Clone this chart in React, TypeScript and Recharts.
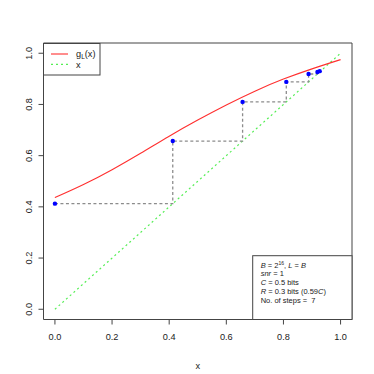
import React from 'react';
import { ComposedChart, Line, Scatter, XAxis, YAxis, ReferenceArea } from 'recharts';

// g_L(x) curve
const curveX = [0, 0.1, 0.2, 0.3, 0.4, 0.5, 0.6, 0.7, 0.8, 0.9, 1.0];
const curveY = [0.436, 0.487, 0.545, 0.609, 0.676, 0.739, 0.798, 0.852, 0.899, 0.939, 0.975];

// identity line
const diagX = [0, 1];

// iterates x_0 .. x_7
const iterates = [0, 0.4125, 0.657, 0.81, 0.888, 0.919, 0.927, 0.93];

const xTicks = [0, 0.2, 0.4, 0.6, 0.8, 1.0];
const yTicks = [0, 0.2, 0.4, 0.6, 0.8, 1.0];

const font = '"Liberation Sans", Arial, Helvetica, sans-serif';

const curve = curveX.map((x, i) => ({ x, y: curveY[i] }));
const diag = diagX.map(x => ({ x, y: x }));
const points = iterates.slice(0, -1).map((x, i) => ({ x, y: iterates[i + 1] }));

// staircase: (x_i, x_{i+1}) -> (x_{i+1}, x_{i+1}) -> (x_{i+1}, x_{i+2}) ...
const stairs: Array<{ x: number; y: number }> = [];
points.forEach((p, i) => {
  stairs.push({ x: p.x, y: p.y });
  if (i < points.length - 1) stairs.push({ x: p.y, y: p.y });
});

const YTick = (props: any) => {
  const { y, payload } = props;
  return (
    <text
      transform={`translate(31.5, ${y}) rotate(-90)`}
      textAnchor="middle"
      fontSize={9.2}
      fontFamily={font}
      fill="#222"
    >
      {payload.value.toFixed(1)}
    </text>
  );
};

const XTick = (props: any) => {
  const { x, payload } = props;
  return (
    <text x={x} y={339.5} textAnchor="middle" fontSize={9.2} fontFamily={font} fill="#222">
      {payload.value.toFixed(1)}
    </text>
  );
};

const infoLines = [0, 1, 2, 3, 4];

const App = () => {
  return (
    <div style={{ position: 'absolute', left: 0, top: 0, width: 374, height: 374, background: '#fff' }}>
      <ComposedChart
        width={374}
        height={374}
        margin={{ top: 43, right: 22, bottom: 0, left: 0 }}
      >
        <XAxis
          type="number"
          dataKey="x"
          domain={[-0.04, 1.04]}
          ticks={xTicks}
          allowDataOverflow
          height={54.5}
          axisLine={false}
          tickLine={{ stroke: '#444' }}
          tickSize={5}
          tick={<XTick />}
          label={{
            content: () => (
              <text x={197.7} y={369} textAnchor="middle" fontSize={9.2} fontFamily={font} fill="#222">
                x
              </text>
            ),
          }}
        />
        <YAxis
          type="number"
          dataKey="y"
          domain={[-0.04, 1.04]}
          ticks={yTicks}
          allowDataOverflow
          width={43.5}
          axisLine={false}
          tickLine={{ stroke: '#444' }}
          tickSize={5}
          tick={<YTick />}
        />
        <ReferenceArea
          x1={-0.04}
          x2={1.04}
          y1={-0.04}
          y2={1.04}
          fill="none"
          fillOpacity={0}
          stroke="#444"
          strokeWidth={1}
        />
        <Line
          data={diag}
          dataKey="y"
          type="linear"
          stroke="#55ee55"
          strokeWidth={1.2}
          strokeDasharray="2 3"
          dot={false}
          isAnimationActive={false}
        />
        <Line
          data={stairs}
          dataKey="y"
          type="linear"
          stroke="#8c8c8c"
          strokeWidth={1.3}
          strokeDasharray="3 2.5"
          dot={false}
          isAnimationActive={false}
        />
        <Line
          data={curve}
          dataKey="y"
          type="natural"
          stroke="#ff3030"
          strokeWidth={1.1}
          dot={false}
          isAnimationActive={false}
        />
        <Scatter
          data={points}
          fill="#0000ff"
          shape={(p: any) => <circle cx={p.cx} cy={p.cy} r={2.2} fill="#0000ff" />}
          isAnimationActive={false}
        />
      </ComposedChart>
      <svg
        width={374}
        height={374}
        style={{ position: 'absolute', left: 0, top: 0, pointerEvents: 'none' }}
      >
        {/* legend */}
        <rect x={43.5} y={43.5} width={56.5} height={31.5} fill="#fff" stroke="#444" strokeWidth={1} />
        <line x1={51} x2={68} y1={54} y2={54} stroke="#ff3030" strokeWidth={1.1} />
        <line x1={51} x2={68} y1={64.3} y2={64.3} stroke="#55ee55" strokeWidth={1.2} strokeDasharray="2 3" />
        <text x={76} y={57} fontSize={9.2} fontFamily={font} fill="#222">
          g<tspan fontSize={6.5} dy={2}>L</tspan>
          <tspan dy={-2}>(x)</tspan>
        </text>
        <text x={76} y={67.5} fontSize={9.2} fontFamily={font} fill="#222">x</text>

        {/* info box */}
        <rect x={252.7} y={255.7} width={99.3} height={63.8} fill="#fff" stroke="#444" strokeWidth={1} />
        <g fontSize={7.5} fontFamily={font} fill="#222">
          <text x={260.7} y={267.5 + infoLines[0] * 8.8}>
            <tspan fontStyle="italic">B</tspan> = 2<tspan fontSize={5} dy={-3}>16</tspan>
            <tspan dy={3}>, </tspan>
            <tspan fontStyle="italic">L</tspan> = <tspan fontStyle="italic">B</tspan>
          </text>
          <text x={260.7} y={267.5 + infoLines[1] * 8.8}>
            <tspan fontStyle="italic">snr</tspan> = 1
          </text>
          <text x={260.7} y={267.5 + infoLines[2] * 8.8}>
            <tspan fontStyle="italic">C</tspan> = 0.5 bits
          </text>
          <text x={260.7} y={267.5 + infoLines[3] * 8.8}>
            <tspan fontStyle="italic">R</tspan> = 0.3 bits (0.59<tspan fontStyle="italic">C</tspan>)
          </text>
          <text x={260.7} y={267.5 + infoLines[4] * 8.8} xmlSpace="preserve">
            No. of steps =  7
          </text>
        </g>
      </svg>
    </div>
  );
};

export default App;
